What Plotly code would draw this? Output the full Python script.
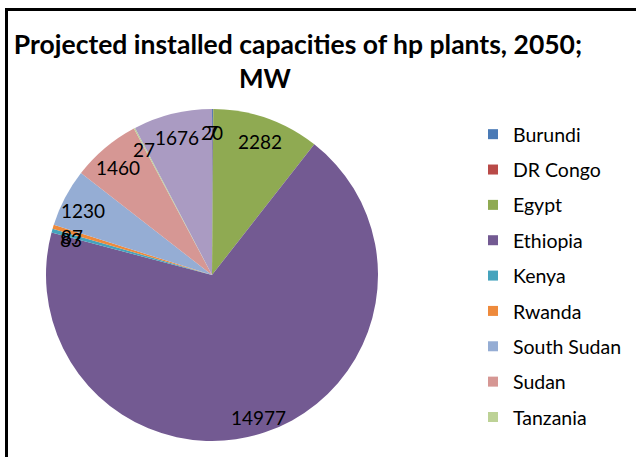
import math
import plotly.graph_objects as go

countries = ["Burundi", "DR Congo", "Egypt", "Ethiopia", "Kenya", "Rwanda",
             "South Sudan", "Sudan", "Tanzania", "Uganda"]
capacity_mw = [20, 7, 2282, 14977, 83, 87, 1230, 1460, 27, 1676]
colors = ["#4A7AB6", "#B94A48", "#8FAA52", "#735A92", "#45A3BD", "#EE8A3C",
          "#95ADD4", "#D69794", "#BDD296", "#AA9BC2"]
legend_shown = [True] * 9 + [False]   # Uganda entry falls off the visible legend

title_line1 = "Projected installed capacities of hp plants, 2050;"
title_line2 = "MW"

W, H = 636, 457
font_family = "Lato, 'Open Sans', sans-serif"

# pie placement (pixels)
pie_x0, pie_x1, pie_top, pie_bottom = 46, 378, 109, 441
cx, cy = (pie_x0 + pie_x1) / 2, (pie_top + pie_bottom) / 2
R = (pie_bottom - pie_top) / 2
label_r = 0.88 * R

fig = go.Figure()

fig.add_trace(go.Pie(
    labels=countries,
    values=capacity_mw,
    marker=dict(colors=colors, line=dict(width=0)),
    sort=False,
    direction="clockwise",
    rotation=0,
    textinfo="none",
    showlegend=False,
    domain=dict(x=[pie_x0 / W, pie_x1 / W], y=[1 - pie_bottom / H, 1 - pie_top / H]),
    hoverinfo="label+value+percent",
))

# value labels placed along each slice's mid-angle (computed from the data)
total = sum(capacity_mw)
annotations = []
cum = 0.0
for v in capacity_mw:
    mid = (cum + v / 2) / total * 2 * math.pi
    cum += v
    px = cx + label_r * math.sin(mid)
    py = cy - label_r * math.cos(mid)
    annotations.append(dict(
        x=px / W, y=1 - py / H, xref="paper", yref="paper",
        text=str(v), showarrow=False, xanchor="center", yanchor="middle",
        yshift=-4,
        font=dict(family=font_family, size=19, color="black")))

annotations.append(dict(
    x=265 / W, y=1 - 78 / H, xref="paper", yref="paper", text=title_line2,
    showarrow=False, xanchor="center", yanchor="middle",
    font=dict(family=font_family, size=26, color="black", weight="bold")))

# legend entries, one per country
for name, col, show in zip(countries, colors, legend_shown):
    fig.add_trace(go.Scatter(
        x=[None], y=[None], mode="markers", name=name,
        marker=dict(symbol="square", size=10, color=col),
        legendgroup=name, showlegend=show, hoverinfo="skip",
    ))

fig.update_layout(
    width=W, height=H,
    margin=dict(l=0, r=0, t=0, b=0),
    paper_bgcolor="white", plot_bgcolor="white",
    font=dict(family=font_family, color="black"),
    title=dict(text=title_line1, x=298 / W, xanchor="center",
               y=1 - 45 / H, yanchor="middle",
               font=dict(family=font_family, size=26.5, color="black", weight="bold")),
    xaxis=dict(visible=False), yaxis=dict(visible=False),
    annotations=annotations,
    legend=dict(x=473 / W, xanchor="left", y=1 - 115 / H, yanchor="top",
                font=dict(family=font_family, size=19.5, color="black"),
                tracegroupgap=7, bgcolor="rgba(0,0,0,0)"),
    shapes=[dict(type="rect", xref="paper", yref="paper",
                 x0=6.5 / W, x1=1.1, y0=-0.1, y1=1 - 9.5 / H,
                 line=dict(color="black", width=3), fillcolor="rgba(0,0,0,0)",
                 layer="above")],
)

fig.write_html("out.html")
